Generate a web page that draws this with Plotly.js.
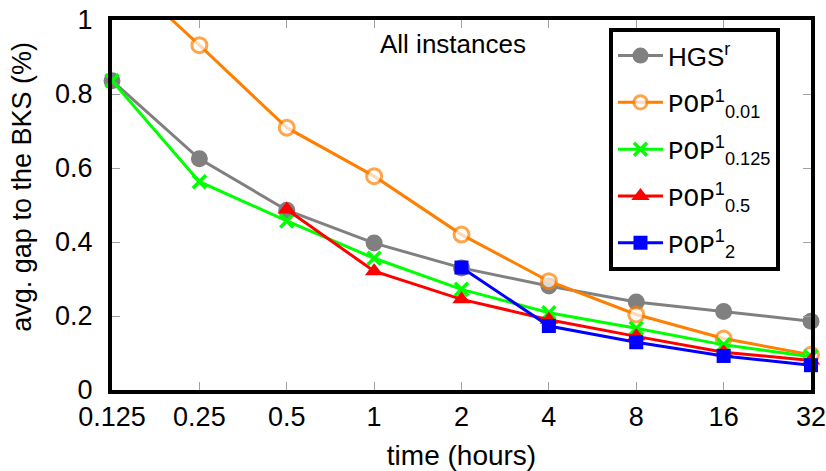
<!DOCTYPE html>
<html>
<head>
<meta charset="utf-8">
<script src="https://cdn.plot.ly/plotly-3.0.1.min.js"></script>
<style>html,body{margin:0;padding:0;background:#fff;}#chart{width:826px;height:471px;}</style>
</head>
<body>
<div id="chart"></div>
<script>
// time in hours
const times = [0.125, 0.25, 0.5, 1, 2, 4, 8, 16, 32];
const tickLabels = ["0.125", "0.25", "0.5", "1", "2", "4", "8", "16", "32"];

// avg. gap to the BKS (%)
const hgs     = [0.836, 0.625, 0.486, 0.397, 0.330, 0.281, 0.238, 0.212, 0.186];
const pop001  = [1.15, 0.932, 0.709, 0.578, 0.420, 0.294, 0.204, 0.139, 0.095];
const pop0125 = [0.836, 0.563, 0.457, 0.356, 0.272, 0.209, 0.167, 0.122, 0.090];
const times05 = [0.5, 1, 2, 4, 8, 16, 32];
const pop05   = [0.488, 0.321, 0.245, 0.190, 0.145, 0.102, 0.080];
const times2  = [2, 4, 8, 16, 32];
const pop2    = [0.331, 0.173, 0.129, 0.092, 0.067];

const mono = '<span style="font-family:\'Liberation Mono\',\'DejaVu Sans Mono\',monospace">POP</span>';

const traces = [
  {x: times, y: hgs, name: 'HGS<sup>r</sup>', mode: 'lines+markers',
   line: {color: '#808080', width: 3},
   marker: {symbol: 'circle', size: 17, color: '#808080'}},
  {x: times, y: pop001, name: mono + '<sup>1</sup><sub>0.01</sub>', mode: 'lines+markers',
   line: {color: '#ff7f00', width: 3},
   marker: {symbol: 'circle', size: pop001.map(v => v > 1 ? 0 : 15), color: '#ffffff',
            line: {color: '#ff7f00', width: 3}}},
  {x: times, y: pop0125, name: mono + '<sup>1</sup><sub>0.125</sub>', mode: 'lines+markers',
   line: {color: '#00ff00', width: 3},
   marker: {symbol: 'x-thin', size: 13, color: '#00ff00', line: {color: '#00ff00', width: 3.5}}},
  {x: times05, y: pop05, name: mono + '<sup>1</sup><sub>0.5</sub>', mode: 'lines+markers',
   line: {color: '#ff0000', width: 3},
   marker: {symbol: 'triangle-up', size: 16, color: '#ff0000'}},
  {x: times2, y: pop2, name: mono + '<sup>1</sup><sub>2</sub>', mode: 'lines+markers',
   line: {color: '#0000ff', width: 3},
   marker: {symbol: 'square', size: 14, color: '#0000ff'}}
].map((t, i) => Object.assign(t, {cliponaxis: false, legendgroup: 'g' + i}));

const font = {family: 'Liberation Sans, Arial, sans-serif', size: 26, color: '#000'};

const layout = {
  width: 826, height: 471,
  margin: {l: 112, r: 15, t: 20, b: 81},
  paper_bgcolor: '#fff', plot_bgcolor: '#fff',
  font: font,
  showlegend: true,
  xaxis: {
    type: 'log', range: [Math.log10(0.125), Math.log10(32)],
    tickvals: times, ticktext: tickLabels, ticklabeloverflow: 'allow',
    ticks: 'inside', ticklen: 8, tickwidth: 1, tickcolor: '#a0a0a0',
    showline: true, linewidth: 4, linecolor: '#000', mirror: 'ticks',
    showgrid: false, zeroline: false,
    tickfont: {size: 27},
    title: {text: 'time (hours)', font: {size: 28}, standoff: 16}
  },
  yaxis: {
    range: [0, 1], tickvals: [0, 0.2, 0.4, 0.6, 0.8, 1],
    ticks: 'inside', ticklen: 8, tickwidth: 1, tickcolor: '#a0a0a0',
    showline: true, linewidth: 4, linecolor: '#000', mirror: 'ticks',
    showgrid: false, zeroline: false,
    tickfont: {size: 27},
    ticklabelstandoff: 10
  },
  legend: {
    x: 0.711, y: 0.978, xanchor: 'left', yanchor: 'top',
    bgcolor: '#fff', bordercolor: '#000', borderwidth: 4,
    font: {size: 26}, itemwidth: 45, tracegroupgap: 10
  },
  annotations: [{
    text: 'All instances', xref: 'paper', yref: 'paper',
    x: 0.488, y: 0.935, showarrow: false, font: {size: 26},
    xanchor: 'center', yanchor: 'middle'
  }, {
    text: 'avg. gap to the BKS (%)', xref: 'paper', yref: 'paper',
    x: -0.129, y: 0.549, textangle: -90, showarrow: false, font: {size: 27},
    xanchor: 'center', yanchor: 'middle'
  }]
};

Plotly.newPlot('chart', traces, layout, {displayModeBar: false, staticPlot: true});
</script>
</body>
</html>
